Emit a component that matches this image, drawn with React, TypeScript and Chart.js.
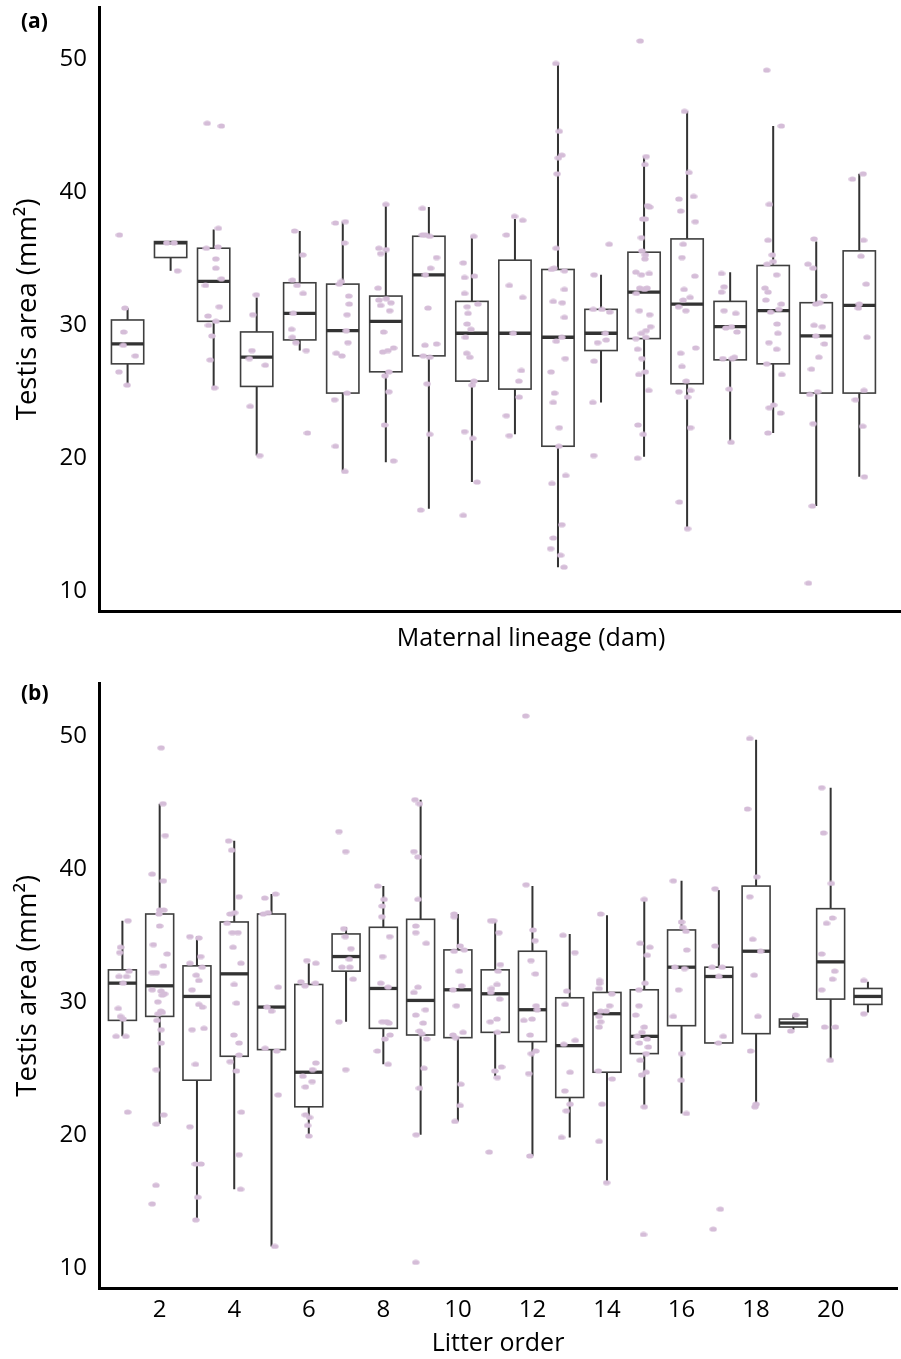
import React, { useEffect, useRef } from 'react';
import { Chart, registerables } from 'chart.js';

Chart.register(...registerables);

// ---------- shared axis values ----------
const Y_TICKS = [10, 20, 30, 40, 50];
const Y_MIN = 8.45;
const Y_MAX = 53.95;
const Y_TITLE = 'Testis area (mm²)';

// ---------- panel (a): maternal lineage ----------
const DAM_TITLE = 'Maternal lineage (dam)';
const DAM_CATEGORIES = [1, 2, 3, 4, 5, 6, 7, 8, 9, 10, 11, 12, 13, 14, 15, 16, 17, 18];
const DAM_LOW = [25.5, 34.1, 25.3, 20.2, 28.1, 19.0, 19.7, 16.2, 18.2, 21.8, 11.8, 24.2, 20.1, 14.7, 21.2, 21.9, 16.4, 18.6];
const DAM_Q1 = [27.1, 35.1, 30.3, 25.4, 28.9, 24.9, 26.5, 27.7, 25.8, 25.2, 20.9, 28.1, 29.0, 25.6, 27.4, 27.1, 24.9, 24.9];
const DAM_MEDIAN = [28.6, 36.2, 33.3, 27.6, 30.9, 29.6, 30.3, 33.8, 29.4, 29.4, 29.1, 29.4, 32.5, 31.6, 29.9, 31.1, 29.2, 31.5];
const DAM_Q3 = [30.4, 36.3, 35.8, 29.5, 33.2, 33.1, 32.2, 36.7, 31.8, 34.9, 34.2, 31.2, 35.5, 36.5, 31.8, 34.5, 31.7, 35.6];
const DAM_HIGH = [31.3, 36.3, 37.2, 32.1, 37.1, 37.8, 39.1, 38.9, 36.7, 38.0, 49.7, 33.8, 42.7, 46.1, 34.0, 45.0, 36.3, 41.4];
const DAM_POINTS = [
  [36.8, 31.3, 29.5, 28.5, 27.7, 26.5, 25.5],
  [36.2, 36.2, 34.1],
  [45.2, 45.0, 37.3, 35.8, 35.9, 35.0, 34.3, 33.5, 33.0, 31.4, 30.7, 30.3, 30.0, 29.2, 27.4, 25.3],
  [32.3, 30.8, 28.1, 27.5, 27.0, 23.9, 20.2],
  [37.1, 35.3, 33.4, 33.0, 32.4, 30.9, 29.7, 29.1, 28.7, 28.1, 21.9],
  [37.7, 37.8, 36.2, 33.3, 33.1, 32.2, 31.6, 30.8, 29.6, 28.7, 27.9, 27.7, 24.9, 24.4, 20.9, 19.0],
  [39.1, 35.8, 35.7, 35.4, 32.8, 31.9, 32.0, 31.7, 31.5, 31.1, 29.5, 28.0, 28.1, 28.3, 26.5, 26.2, 25.0, 22.5, 19.8],
  [38.8, 36.8, 36.8, 36.7, 35.1, 34.3, 33.8, 31.3, 28.5, 28.6, 27.7, 27.6, 25.6, 21.8, 16.1],
  [36.7, 34.7, 33.6, 33.7, 32.4, 31.6, 31.4, 30.9, 30.1, 29.7, 29.1, 27.9, 27.6, 25.8, 25.5, 22.0, 21.5, 18.2, 15.7],
  [38.2, 37.9, 36.8, 33.0, 32.1, 29.4, 26.6, 25.8, 24.6, 23.2, 21.7],
  [49.7, 44.6, 42.8, 42.6, 41.4, 35.8, 34.2, 34.3, 34.1, 32.7, 31.8, 31.7, 30.6, 29.1, 28.8, 27.5, 26.5, 24.9, 24.2, 22.3, 20.9, 18.7, 18.1, 15.0, 14.0, 13.2, 12.7, 11.8],
  [36.1, 33.8, 31.2, 31.2, 31.0, 29.4, 28.7, 28.9, 27.3, 24.2, 20.2],
  [51.4, 42.7, 42.1, 39.0, 38.9, 38.0, 38.0, 36.6, 35.6, 35.3, 35.0, 34.0, 33.8, 33.9, 32.8, 32.7, 32.8, 32.4, 31.1, 30.8, 29.9, 29.6, 29.4, 29.0, 29.1, 28.2, 27.5, 26.5, 26.3, 25.1, 22.5, 21.8, 20.0],
  [46.1, 41.5, 39.5, 39.7, 38.6, 37.8, 36.1, 35.1, 33.7, 32.7, 32.1, 31.9, 31.4, 31.1, 27.9, 28.3, 26.9, 25.8, 25.0, 25.1, 24.6, 22.3, 16.7, 14.7],
  [33.9, 32.9, 32.5, 31.1, 30.9, 29.8, 29.9, 29.5, 27.5, 27.5, 27.6, 25.2, 21.2],
  [49.2, 45.0, 39.1, 36.4, 35.3, 34.8, 34.6, 33.8, 32.8, 32.5, 31.9, 31.6, 31.2, 31.0, 30.1, 29.4, 28.7, 28.2, 27.1, 26.3, 23.8, 24.0, 23.4, 21.9],
  [36.5, 34.6, 34.3, 32.2, 31.6, 31.7, 30.0, 29.9, 29.2, 28.6, 27.6, 26.7, 24.8, 25.0, 22.6, 16.4, 10.6],
  [41.0, 41.4, 36.4, 35.2, 33.1, 31.6, 31.3, 29.1, 25.1, 24.4, 22.4, 18.6],
];
const DAM_JITTER = [
  [-0.19, -0.06, -0.09, -0.10, 0.18, -0.20, -0.01],
  [-0.09, 0.08, 0.16],
  [-0.15, 0.18, 0.11, -0.17, 0.10, 0.05, 0.05, 0.18, -0.19, 0.13, -0.13, 0.05, -0.12, -0.04, -0.08, 0.02],
  [-0.01, -0.09, -0.11, -0.17, 0.20, -0.15, 0.07],
  [-0.12, 0.07, -0.17, -0.06, 0.08, -0.15, -0.19, -0.17, -0.09, 0.15, 0.18],
  [-0.17, 0.06, 0.04, -0.03, -0.08, 0.14, 0.15, 0.10, 0.08, 0.12, -0.15, -0.02, 0.10, -0.19, -0.17, 0.05],
  [0, -0.16, 0.01, -0.12, -0.18, -0.16, 0.01, 0.12, -0.12, 0.09, -0.05, -0.07, 0.05, 0.18, 0.07, -0.02, 0.07, -0.03, 0.18],
  [-0.15, -0.15, -0.08, 0.02, 0.18, 0.04, -0.08, -0.02, -0.09, 0.18, -0.13, 0.02, -0.04, 0.02, -0.19],
  [0.04, -0.20, -0.17, 0.06, -0.17, 0.14, -0.11, -0.09, -0.11, -0.02, -0.15, -0.12, -0.05, 0.05, 0.01, -0.17, 0.02, 0.12, -0.20],
  [-0.01, 0.18, -0.20, -0.13, 0.18, -0.04, 0.15, 0.09, 0.10, -0.20, -0.13],
  [-0.05, 0.03, 0.09, 0.01, -0.02, -0.04, -0.15, -0.09, 0.15, 0.15, -0.11, 0.10, 0.15, 0.09, -0.04, 0.17, -0.16, -0.08, -0.11, 0.03, 0.02, 0.18, -0.14, 0.09, -0.11, -0.17, 0.06, 0.14],
  [0.19, -0.16, -0.18, 0.02, 0.20, 0.10, -0.08, 0.12, -0.16, -0.19, -0.17],
  [-0.09, 0.05, 0.02, 0.08, 0.13, -0.03, 0.03, -0.06, -0.05, 0.03, 0.02, -0.19, -0.06, 0.12, -0.10, 0.01, 0.07, -0.18, -0.11, 0.13, 0.15, 0.05, -0.06, -0.19, 0.04, -0.15, -0.05, 0.03, -0.12, 0.11, -0.14, -0.02, -0.15],
  [-0.06, 0.04, -0.19, 0.15, -0.15, 0.19, -0.09, -0.12, 0.18, -0.07, 0.07, -0.09, -0.20, -0.03, -0.15, 0.20, -0.12, -0.02, -0.19, 0.08, 0.01, 0.08, -0.18, 0.01],
  [-0.20, -0.14, -0.20, -0.14, 0.13, -0.10, 0.03, 0.16, -0.17, 0.05, 0.10, -0.02, 0.02],
  [-0.15, 0.19, -0.09, -0.12, -0.02, 0, -0.14, 0.08, -0.19, -0.12, -0.17, 0.19, 0.13, -0.06, 0.09, 0.11, -0.10, 0.08, -0.15, 0.20, -0.09, 0.01, 0.17, -0.12],
  [-0.05, -0.19, -0.07, 0.18, -0.01, 0.08, -0.05, 0.14, -0.01, 0.19, 0.06, -0.11, -0.15, 0.03, -0.07, -0.09, -0.18],
  [-0.16, 0.09, 0.10, 0.04, 0.16, 0, -0.02, 0.18, 0.11, -0.09, 0.08, 0.12],
];

// ---------- panel (b): litter order ----------
const LITTER_TITLE = 'Litter order';
const LITTER_TICKS = [2, 4, 6, 8, 10, 12, 14, 16, 18, 20];
const LITTER_CATEGORIES = [1, 2, 3, 4, 5, 6, 7, 8, 9, 10, 11, 12, 13, 14, 15, 16, 17, 18, 19, 20, 21];
const LITTER_LOW = [27.4, 20.8, 13.6, 15.9, 11.6, 19.9, 28.5, 25.3, 20.0, 21.0, 24.4, 18.4, 19.8, 16.4, 22.1, 21.6, 26.9, 22.3, 27.9, 25.6, 29.2];
const LITTER_Q1 = [28.6, 28.9, 24.1, 25.9, 26.4, 22.1, 32.3, 28.0, 27.5, 27.3, 27.7, 27.0, 22.8, 24.7, 26.1, 28.2, 26.9, 27.6, 28.1, 30.2, 29.8];
const LITTER_MEDIAN = [31.4, 31.2, 30.4, 32.1, 29.6, 24.7, 33.4, 31.0, 30.1, 30.9, 30.6, 29.4, 26.7, 29.1, 27.4, 32.6, 31.9, 33.8, 28.4, 33.0, 30.4];
const LITTER_Q3 = [32.4, 36.6, 32.7, 36.0, 36.6, 31.3, 35.1, 35.6, 36.2, 33.9, 32.4, 33.8, 30.3, 30.7, 30.9, 35.4, 32.6, 38.7, 28.7, 37.0, 31.0];
const LITTER_HIGH = [36.1, 44.9, 34.9, 42.1, 38.1, 32.9, 35.6, 38.7, 45.2, 36.6, 36.1, 38.7, 35.1, 36.5, 37.7, 39.1, 38.4, 49.7, 29.0, 46.1, 31.5];
const LITTER_POINTS = [
  [36.1, 34.1, 33.7, 32.3, 31.9, 31.9, 31.4, 29.5, 28.9, 28.7, 27.4, 27.4, 21.7],
  [49.1, 44.9, 42.5, 39.6, 39.1, 36.9, 36.9, 36.6, 35.7, 34.3, 33.6, 32.7, 32.2, 32.2, 30.9, 30.8, 30.6, 30.5, 30.0, 29.3, 29.1, 29.2, 28.6, 27.9, 26.9, 24.9, 21.5, 20.8, 16.2, 14.8],
  [34.9, 34.8, 33.4, 32.9, 32.6, 32.0, 31.6, 30.9, 29.8, 29.6, 27.9, 28.0, 25.3, 20.6, 17.8, 17.8, 15.3, 13.6],
  [42.1, 41.4, 37.9, 36.6, 36.7, 35.9, 35.2, 35.2, 34.1, 32.9, 31.3, 29.9, 27.5, 26.9, 26.0, 25.5, 24.8, 21.7, 18.5, 15.9],
  [38.1, 37.8, 36.6, 36.7, 31.1, 29.6, 29.3, 26.5, 26.3, 23.0, 11.6],
  [33.1, 32.9, 31.5, 31.2, 31.4, 25.4, 24.9, 24.4, 24.0, 23.6, 21.5, 21.3, 20.7, 19.9],
  [42.8, 41.3, 35.5, 34.9, 34.0, 33.2, 32.6, 32.6, 31.7, 28.5, 24.9],
  [38.7, 37.7, 37.2, 36.4, 34.9, 33.4, 31.4, 31.1, 28.5, 28.5, 28.4, 27.5, 27.2, 26.3, 25.3],
  [45.2, 44.9, 41.3, 40.9, 37.7, 35.7, 35.2, 34.4, 31.1, 30.7, 29.4, 29.0, 28.4, 27.8, 27.6, 27.2, 25.0, 23.5, 20.0, 10.4],
  [36.6, 36.4, 34.2, 33.9, 33.8, 32.3, 31.2, 30.9, 29.7, 27.7, 27.5, 27.3, 23.8, 22.2, 21.0],
  [36.1, 36.1, 35.2, 32.8, 32.3, 31.3, 31.0, 30.7, 30.2, 28.7, 28.5, 27.7, 24.8, 25.1, 24.3, 18.7],
  [51.5, 38.8, 35.4, 34.6, 33.1, 32.1, 29.7, 29.4, 28.7, 28.6, 27.5, 26.3, 26.1, 24.6, 18.4],
  [35.0, 33.7, 30.8, 29.8, 27.1, 26.8, 24.7, 23.3, 22.3, 21.8, 19.8],
  [36.6, 31.6, 31.4, 31.0, 30.6, 29.7, 29.3, 29.3, 28.9, 28.5, 28.1, 24.8, 24.2, 22.3, 19.5, 16.4],
  [37.7, 34.4, 34.1, 33.5, 31.4, 30.9, 29.7, 29.0, 28.1, 27.7, 27.4, 27.2, 26.9, 26.6, 26.1, 25.6, 24.7, 24.5, 22.1, 12.5],
  [39.1, 36.0, 35.6, 35.3, 33.9, 32.6, 32.5, 30.9, 28.9, 26.1, 24.1, 21.6],
  [38.5, 34.2, 32.6, 32.6, 31.9, 27.4, 26.9, 14.4, 12.9],
  [49.8, 44.5, 39.4, 37.9, 34.7, 33.8, 32.0, 28.9, 26.3, 22.3, 22.1],
  [29.0, 27.8],
  [46.1, 42.7, 38.9, 36.3, 35.9, 33.6, 32.3, 31.7, 30.9, 28.1, 28.1, 25.6],
  [31.6, 29.1],
];
const LITTER_JITTER = [
  [0.15, -0.05, -0.07, 0.18, 0.11, -0.09, 0.02, -0.11, -0.05, 0.02, -0.17, 0.09, 0.14],
  [0.04, 0.09, 0.15, -0.20, 0.10, 0, 0.11, -0.02, 0, -0.17, 0.20, 0.10, -0.20, -0.09, -0.20, 0.04, 0.13, 0.07, -0.05, 0.03, -0.04, 0.07, -0.07, 0.04, 0.04, -0.09, 0.11, -0.09, -0.10, -0.20],
  [-0.19, 0.05, 0.10, -0.19, 0.14, -0.02, 0.05, -0.13, 0.05, 0.15, -0.13, 0.19, -0.04, -0.19, -0.04, 0.11, 0.02, -0.03],
  [-0.15, -0.07, 0.13, -0.11, 0.01, -0.19, -0.05, 0.10, -0.03, 0.18, 0, 0.06, -0.01, 0.13, 0.13, -0.11, 0.06, 0.19, 0.13, 0.17],
  [0.11, -0.18, -0.22, -0.09, 0.18, -0.12, 0, -0.17, 0.14, 0.18, 0.09],
  [-0.05, 0.19, -0.21, -0.10, 0.18, 0.19, 0.10, -0.16, 0.09, -0.09, -0.09, 0.02, -0.03, 0],
  [-0.19, -0.01, -0.06, -0.02, 0.13, 0.09, -0.11, 0.10, 0.19, -0.19, -0.01],
  [-0.15, 0.02, -0.03, -0.04, 0.17, -0.02, -0.07, 0.13, -0.03, 0.09, 0.15, 0.18, 0.04, -0.16, 0.13],
  [-0.15, -0.03, -0.18, -0.07, -0.07, -0.13, -0.13, 0.15, -0.07, -0.18, 0.13, -0.13, 0.07, -0.03, 0.03, 0.16, 0.09, -0.03, -0.12, -0.13],
  [-0.10, -0.10, 0.06, 0.17, -0.10, 0.04, 0.10, -0.13, -0.04, 0.14, -0.13, -0.06, 0.08, 0.06, -0.08],
  [-0.12, -0.04, 0.10, 0.14, 0.08, 0.05, -0.10, -0.12, 0.12, 0.05, -0.13, 0.06, -0.01, 0.17, 0.06, -0.16],
  [-0.18, -0.17, 0.02, 0.07, -0.04, 0.08, 0.10, 0.13, -0.01, -0.23, -0.06, 0.09, -0.03, -0.10, -0.07],
  [-0.18, 0.14, -0.08, -0.12, 0.15, -0.16, 0.01, -0.13, 0.01, -0.09, -0.22],
  [-0.17, -0.20, -0.20, -0.21, 0.13, 0.07, -0.17, -0.02, -0.21, -0.17, -0.21, -0.23, 0.14, -0.13, -0.21, -0.01],
  [0, -0.11, 0.15, 0.08, 0.02, -0.14, -0.14, -0.23, 0, -0.06, -0.19, 0.08, -0.13, 0.11, 0.05, -0.11, 0.05, -0.07, 0, -0.02],
  [-0.22, 0, 0.03, 0.12, 0.14, -0.18, 0.08, -0.08, -0.22, 0, -0.01, 0.13],
  [-0.10, -0.10, -0.18, 0.09, 0, 0.12, -0.01, 0.04, -0.15],
  [-0.17, -0.23, 0.02, -0.17, -0.09, 0.12, -0.05, 0.05, -0.15, 0, -0.03],
  [0.06, -0.07],
  [-0.24, -0.19, 0.02, 0.05, -0.11, -0.24, 0.11, 0.05, -0.24, -0.16, 0.13, -0.01],
  [-0.11, -0.11],
];

// ---------- styling ----------
const FONT = '"Open Sans", "DejaVu Sans", sans-serif';
const TICK_SIZE = 24;
const X_TITLE_SIZE = 25;
const Y_TITLE_SIZE = 27.5;
const BOX_WIDTH = 0.75;
const DOT_COLOR = '#d5bdd8';
const BOX_COLOR = '#3f3f3f';
const LINE_COLOR = '#333333';

type Stats = {
  cats: number[];
  low: number[];
  q1: number[];
  med: number[];
  q3: number[];
  high: number[];
};

function makeDot(): HTMLCanvasElement {
  const c = document.createElement('canvas');
  c.width = 8;
  c.height = 6;
  const g = c.getContext('2d')!;
  g.fillStyle = DOT_COLOR;
  g.beginPath();
  g.ellipse(4, 3, 3.7, 2.6, 0, 0, Math.PI * 2);
  g.fill();
  return c;
}

function makeBoxPlugin(s: Stats) {
  return {
    id: 'boxes',
    beforeDatasetsDraw(chart: any) {
      const { ctx } = chart;
      const x = chart.scales.x;
      const y = chart.scales.y;
      ctx.save();
      s.cats.forEach((c, i) => {
        const xl = x.getPixelForValue(c - BOX_WIDTH / 2);
        const xr = x.getPixelForValue(c + BOX_WIDTH / 2);
        const xc = x.getPixelForValue(c);
        const yLow = y.getPixelForValue(s.low[i]);
        const yQ1 = y.getPixelForValue(s.q1[i]);
        const yMed = y.getPixelForValue(s.med[i]);
        const yQ3 = y.getPixelForValue(s.q3[i]);
        const yHigh = y.getPixelForValue(s.high[i]);
        ctx.strokeStyle = LINE_COLOR;
        ctx.lineWidth = 2;
        ctx.beginPath();
        ctx.moveTo(xc, yHigh);
        ctx.lineTo(xc, yQ3);
        ctx.moveTo(xc, yQ1);
        ctx.lineTo(xc, yLow);
        ctx.stroke();
        ctx.fillStyle = '#ffffff';
        ctx.fillRect(xl, yQ3, xr - xl, yQ1 - yQ3);
        ctx.strokeStyle = BOX_COLOR;
        ctx.lineWidth = 1.6;
        ctx.strokeRect(xl, yQ3, xr - xl, yQ1 - yQ3);
        ctx.strokeStyle = LINE_COLOR;
        ctx.lineWidth = 3.3;
        ctx.beginPath();
        ctx.moveTo(xl, yMed);
        ctx.lineTo(xr, yMed);
        ctx.stroke();
      });
      ctx.restore();
    },
  };
}

function pointData(cats: number[], pts: number[][], jit: number[][]) {
  const out: { x: number; y: number }[] = [];
  cats.forEach((c, i) => {
    pts[i].forEach((v, j) => out.push({ x: c + jit[i][j], y: v }));
  });
  return out;
}

type PanelCfg = {
  stats: Stats;
  points: number[][];
  jitter: number[][];
  xMin: number;
  xMax: number;
  xTitle: string;
  xTicks: number[] | null;
  padTop: number;
  xAxisHeight: number;
  xTitlePadBottom: number;
};

function buildChart(canvas: HTMLCanvasElement, cfg: PanelCfg) {
  const dot = makeDot();
  return new Chart(canvas, {
    type: 'scatter',
    data: {
      datasets: [
        {
          data: pointData(cfg.stats.cats, cfg.points, cfg.jitter),
          pointStyle: dot as any,
          pointRadius: 3,
          pointHoverRadius: 3,
          showLine: false,
        },
      ],
    },
    options: {
      responsive: false,
      animation: false,
      events: [],
      layout: { padding: { top: cfg.padTop, left: 0, right: 0, bottom: 0 } },
      plugins: {
        legend: { display: false },
        tooltip: { enabled: false },
      },
      scales: {
        x: {
          type: 'linear',
          min: cfg.xMin,
          max: cfg.xMax,
          afterBuildTicks: (scale: any) => {
            if (cfg.xTicks) scale.ticks = cfg.xTicks.map((v) => ({ value: v }));
          },
          afterFit: (scale: any) => {
            scale.height = cfg.xAxisHeight;
            scale.paddingLeft = 0;
            scale.paddingRight = 0;
          },
          grid: { display: false, drawTicks: false },
          border: { display: true, width: 3, color: '#000000' },
          ticks: {
            display: !!cfg.xTicks,
            padding: 7.3,
            color: '#000000',
            font: { family: FONT, size: TICK_SIZE },
            maxRotation: 0,
            autoSkip: false,
            callback: (v: any) => String(v),
          },
          title: {
            display: true,
            text: cfg.xTitle,
            color: '#000000',
            font: { family: FONT, size: X_TITLE_SIZE },
            padding: { top: 0, bottom: cfg.xTitlePadBottom },
          },
        },
        y: {
          type: 'linear',
          min: Y_MIN,
          max: Y_MAX,
          afterBuildTicks: (scale: any) => {
            scale.ticks = Y_TICKS.map((v) => ({ value: v }));
          },
          afterFit: (scale: any) => {
            scale.width = 99;
            scale.paddingTop = 0;
            scale.paddingBottom = 0;
          },
          grid: { display: false, drawTicks: false },
          border: { display: true, width: 3, color: '#000000' },
          ticks: {
            padding: 12,
            color: '#000000',
            font: { family: FONT, size: TICK_SIZE },
            callback: (v: any) => String(v),
          },
          title: {
            display: true,
            text: Y_TITLE,
            color: '#000000',
            font: { family: FONT, size: Y_TITLE_SIZE },
            padding: { top: 12, bottom: 0 },
          },
        },
      },
    },
    plugins: [makeBoxPlugin(cfg.stats)],
  } as any);
}

export default function App() {
  const refA = useRef<HTMLCanvasElement>(null);
  const refB = useRef<HTMLCanvasElement>(null);

  useEffect(() => {
    const a = buildChart(refA.current!, {
      stats: { cats: DAM_CATEGORIES, low: DAM_LOW, q1: DAM_Q1, med: DAM_MEDIAN, q3: DAM_Q3, high: DAM_HIGH },
      points: DAM_POINTS,
      jitter: DAM_JITTER,
      xMin: 0.336,
      xMax: 20.41,
      xTitle: DAM_TITLE,
      xTicks: null,
      padTop: 7,
      xAxisHeight: 58.3,
      xTitlePadBottom: 16,
    });
    const b = buildChart(refB.current!, {
      stats: { cats: LITTER_CATEGORIES, low: LITTER_LOW, q1: LITTER_Q1, med: LITTER_MEDIAN, q3: LITTER_Q3, high: LITTER_HIGH },
      points: LITTER_POINTS,
      jitter: LITTER_JITTER,
      xMin: 0.372,
      xMax: 21.78,
      xTitle: LITTER_TITLE,
      xTicks: LITTER_TICKS,
      padTop: 13.3,
      xAxisHeight: 70.7,
      xTitlePadBottom: 0,
    });
    return () => {
      a.destroy();
      b.destroy();
    };
  }, []);

  const panelLabel: React.CSSProperties = {
    position: 'absolute',
    left: 21,
    fontFamily: FONT,
    fontWeight: 700,
    fontSize: 21,
    lineHeight: '24px',
    color: '#000',
  };

  return (
    <div
      style={{
        position: 'absolute',
        left: 0,
        top: 0,
        width: 901,
        height: 1359,
        overflow: 'hidden',
        background: '#ffffff',
      }}
    >
      <canvas ref={refA} width={967} height={670} style={{ position: 'absolute', left: 0, top: 0 }} />
      <canvas ref={refB} width={901} height={689} style={{ position: 'absolute', left: 0, top: 670 }} />
      <div style={{ ...panelLabel, top: 8 }}>(a)</div>
      <div style={{ ...panelLabel, top: 680 }}>(b)</div>
    </div>
  );
}
